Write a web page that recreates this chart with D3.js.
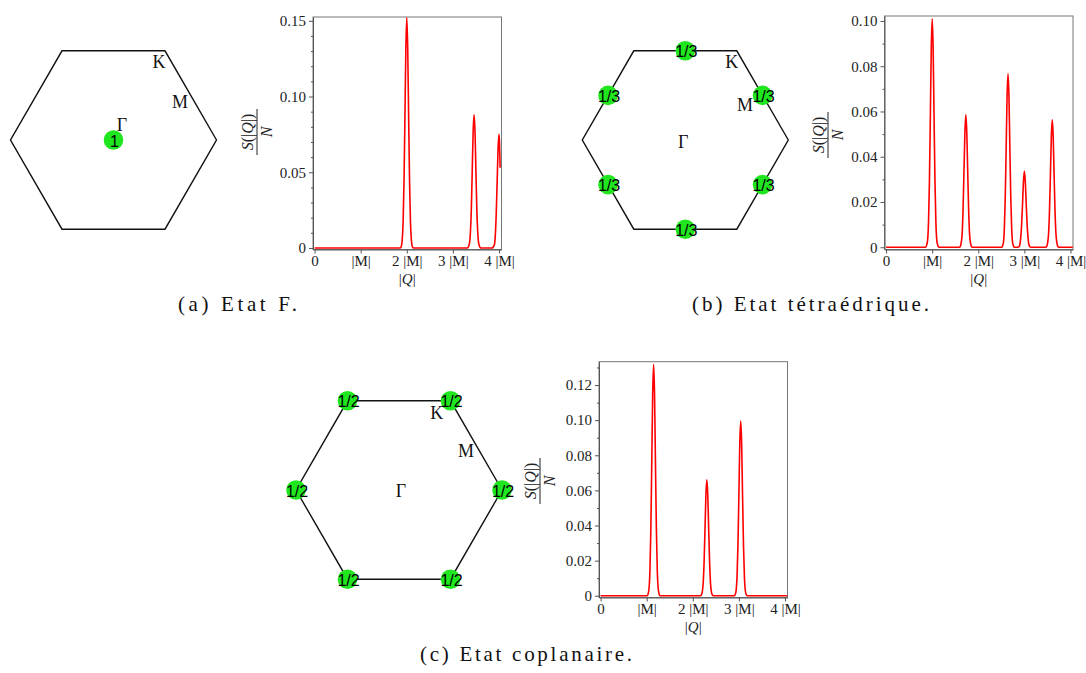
<!DOCTYPE html>
<html><head><meta charset="utf-8">
<script src="https://cdn.jsdelivr.net/npm/d3@7"></script>
<style>body{margin:0;background:#fff}svg{display:block}</style>
</head><body>
<svg id="c" width="1086" height="673"></svg>
<script>
// ---------------- data ----------------
const xTickValues = [0, 1, 2, 3, 4];
const xTickLabels = ["0", "|M|", "2 |M|", "3 |M|", "4 |M|"];

const yTicksF = [0, 0.05, 0.10, 0.15];
const yTickLabelsF = ["0", "0.05", "0.10", "0.15"];
const yTicksT = [0, 0.02, 0.04, 0.06, 0.08, 0.10];
const yTickLabelsT = ["0", "0.02", "0.04", "0.06", "0.08", "0.10"];
const yTicksC = [0, 0.02, 0.04, 0.06, 0.08, 0.10, 0.12];
const yTickLabelsC = ["0", "0.02", "0.04", "0.06", "0.08", "0.10", "0.12"];
const yMaxF = 0.1525, yMaxT = 0.1022, yMaxC = 0.1333;

// (a) Etat F : S(|Q|)/N
const qF = [0, 1.86,1.88,1.90,1.92,1.94,1.96,1.98,2.00,2.02,2.04,2.06,2.08,2.10,2.12,2.14,
            3.32,3.34,3.36,3.38,3.40,3.42,3.44,3.46,3.48,3.50,3.52,3.54,3.56,3.58,3.60,
            3.86,3.88,3.90,3.92,3.94,3.96,3.98,4.00,4.01,4.02,4.025];
const sF = [0, 0,0.001,0.005,0.017,0.044,0.087,0.132,0.152,0.132,0.087,0.044,0.017,0.005,0.001,0,
            0,0.001,0.003,0.010,0.025,0.051,0.077,0.088,0.077,0.051,0.025,0.010,0.003,0.001,0,
            0,0.001,0.002,0.008,0.022,0.043,0.065,0.075,0.071,0.060,0.053];

// (b) Etat tétraédrique
const qT = [0, 0.86,0.88,0.90,0.92,0.94,0.96,0.98,1.00,1.02,1.04,1.06,1.08,1.10,1.12,1.14,
            1.59,1.61,1.63,1.65,1.67,1.69,1.71,1.73,1.75,1.77,1.79,1.81,1.83,1.85,1.87,
            2.505,2.525,2.545,2.565,2.585,2.605,2.625,2.645,2.665,2.685,2.705,2.725,2.745,2.765,2.785,
            2.86,2.88,2.90,2.92,2.94,2.96,2.98,3.00,3.02,3.04,3.06,3.08,3.10,3.12,3.14,
            3.465,3.485,3.505,3.525,3.545,3.565,3.585,3.605,3.625,3.645,3.665,3.685,3.705,3.725,3.745,
            4.05];
const sT = [0, 0,0.001,0.003,0.011,0.029,0.058,0.088,0.101,0.088,0.058,0.029,0.011,0.003,0.001,0,
            0,0.0004,0.002,0.006,0.017,0.034,0.051,0.0585,0.051,0.034,0.017,0.006,0.002,0.0004,0,
            0,0.0005,0.002,0.008,0.022,0.044,0.067,0.0766,0.067,0.044,0.022,0.008,0.002,0.0005,0,
            0,0.0002,0.001,0.004,0.010,0.019,0.029,0.0337,0.029,0.019,0.010,0.004,0.001,0.0002,0,
            0,0.0004,0.002,0.006,0.016,0.032,0.049,0.0563,0.049,0.032,0.016,0.006,0.002,0.0004,0,
            0];

// (c) Etat coplanaire
const qC = [0, 1.01,1.03,1.05,1.07,1.09,1.11,1.13,1.15,1.17,1.19,1.21,1.23,1.25,1.27,1.29,
            2.165,2.185,2.205,2.225,2.245,2.265,2.285,2.305,2.325,2.345,2.365,2.385,2.405,2.425,2.445,
            2.90,2.92,2.94,2.96,2.98,3.00,3.02,3.04,3.06,3.08,3.10,3.12,3.14,3.16,3.18,
            4.05];
const sC = [0, 0,0.001,0.004,0.014,0.038,0.076,0.115,0.1318,0.115,0.076,0.038,0.014,0.004,0.001,0,
            0,0.0004,0.002,0.007,0.019,0.038,0.0575,0.066,0.0575,0.038,0.019,0.007,0.002,0.0004,0,
            0,0.0007,0.003,0.011,0.029,0.057,0.087,0.0995,0.087,0.057,0.029,0.011,0.003,0.0007,0,
            0];

// Bragg spots in the Brillouin zone: point type and weight
const spotTypes = ["Γ", "M", "K"];
const spotWeights = ["1", "1/3", "1/2"];
const captions = ["(a) Etat F.", "(b) Etat tétraédrique.", "(c) Etat coplanaire."];

// ---------------- layout ----------------
const SERIF = "'Liberation Serif','Times New Roman',serif";
const SANS = "'Liberation Sans',Arial,sans-serif";
const svg = d3.select("#c");
const PW = 188.5, XMIN = -0.035, XMAX = 4.055;

const plots = [
  {q: qF, s: sF, yt: yTicksF, yl: yTickLabelsF, ymax: yMaxF, left: 313, top: 17, bottom: 249.5, lx: 257, ly: 132},
  {q: qT, s: sT, yt: yTicksT, yl: yTickLabelsT, ymax: yMaxT, left: 884.5, top: 16, bottom: 249.5, lx: 828, ly: 135},
  {q: qC, s: sC, yt: yTicksC, yl: yTickLabelsC, ymax: yMaxC, left: 599, top: 361.7, bottom: 597.5, lx: 540, ly: 481}
];

plots.forEach(p => {
  const g = svg.append("g");
  const x = d3.scaleLinear().domain([XMIN, XMAX]).range([p.left, p.left + PW]);
  const y = d3.scaleLinear().domain([-0.001, p.ymax]).range([p.bottom, p.top]);

  g.append("rect").attr("x", p.left).attr("y", p.top).attr("width", PW)
    .attr("height", p.bottom - p.top).attr("fill", "none").attr("stroke", "#777").attr("stroke-width", 1);

  const xa = g.append("g").attr("transform", `translate(0,${p.bottom})`)
    .call(d3.axisBottom(x).tickValues(xTickValues).tickFormat((d, i) => xTickLabels[i])
      .tickSize(4).tickSizeOuter(0).tickPadding(2));
  const ya = g.append("g").attr("transform", `translate(${p.left},0)`)
    .call(d3.axisLeft(y).tickValues(p.yt).tickFormat((d, i) => p.yl[i])
      .tickSize(4).tickSizeOuter(0).tickPadding(3));
  const minors = d3.range(0.01, p.ymax, 0.01).filter(v => !p.yt.some(t => Math.abs(t - v) < 1e-6));
  const ym = g.append("g").attr("transform", `translate(${p.left},0)`)
    .call(d3.axisLeft(y).tickValues(minors).tickFormat("").tickSize(2).tickSizeOuter(0));
  [xa, ya, ym].forEach(a => {
    a.select(".domain").attr("stroke", "#555");
    a.selectAll(".tick line").attr("stroke", "#555");
    a.selectAll("text").attr("font-family", SERIF).attr("font-size", 15).attr("fill", "#222");
  });
  ym.select(".domain").remove();

  // axis title |Q|
  const xt = g.append("text").attr("x", p.left + PW / 2).attr("y", p.bottom + 34)
    .attr("text-anchor", "middle").attr("font-family", SERIF).attr("font-size", 15).attr("fill", "#222");
  xt.append("tspan").text("|");
  xt.append("tspan").attr("font-style", "italic").text("Q");
  xt.append("tspan").text("|");

  // y title: fraction S(|Q|)/N
  const yl = g.append("g").attr("transform", `translate(${p.lx},${p.ly}) rotate(-90)`);
  yl.append("line").attr("x1", -23).attr("x2", 23).attr("y1", 0).attr("y2", 0)
    .attr("stroke", "#222").attr("stroke-width", 1);
  const num = yl.append("text").attr("x", 0).attr("y", -4).attr("text-anchor", "middle")
    .attr("font-family", SERIF).attr("font-size", 16).attr("fill", "#222");
  num.append("tspan").attr("font-style", "italic").text("S");
  num.append("tspan").text("(|");
  num.append("tspan").attr("font-style", "italic").text("Q");
  num.append("tspan").text("|)");
  yl.append("text").attr("x", 0).attr("y", 15).attr("text-anchor", "middle")
    .attr("font-family", SERIF).attr("font-size", 16).attr("font-style", "italic").attr("fill", "#222").text("N");

  // curve
  const line = d3.line().x((d, i) => x(p.q[i])).y((d, i) => y(p.s[i])).curve(d3.curveMonotoneX);
  g.append("path").attr("d", line(p.q)).attr("fill", "none").attr("stroke", "#ff0000")
    .attr("stroke-width", 1.6).attr("stroke-linejoin", "round");
});

// ---------------- Brillouin zones ----------------
const R = 103;
const zones = [
  {cx: 113.5, cy: 140, spot: 0, G: [8.5, -15], K: [45.5, -78.3], M: [66.5, -38.3]},
  {cx: 685.3, cy: 140, spot: 1, G: [-2, 1.7], K: [46.4, -78.3], M: [59.7, -35]},
  {cx: 399, cy: 490, spot: 2, G: [2, 1], K: [37.7, -76.7], M: [67, -39.3]}
];
zones.forEach(z => {
  const g = svg.append("g");
  const kx = d3.scaleLinear().domain([-1, 1]).range([z.cx - R, z.cx + R]);
  const ky = d3.scaleLinear().domain([-1, 1]).range([z.cy + R, z.cy - R]);
  const verts = d3.range(6).map(k => [Math.cos(k * Math.PI / 3), Math.sin(k * Math.PI / 3)]);
  g.append("path").attr("d", d3.line().x(d => kx(d[0])).y(d => ky(d[1]))(verts) + "Z")
    .attr("fill", "none").attr("stroke", "#111").attr("stroke-width", 1.4);

  const type = spotTypes[z.spot];
  let pts;
  if (type === "Γ") pts = [[0, 0]];
  else if (type === "K") pts = verts;
  else pts = d3.range(6).map(k => [Math.sqrt(3) / 2 * Math.cos(Math.PI / 6 + k * Math.PI / 3),
                                  Math.sqrt(3) / 2 * Math.sin(Math.PI / 6 + k * Math.PI / 3)]);

  g.selectAll("circle").data(pts).join("circle")
    .attr("cx", d => kx(d[0])).attr("cy", d => ky(d[1])).attr("r", 9.8).attr("fill", "#1fe61f");

  [["Γ", z.G], ["K", z.K], ["M", z.M]].forEach(([t, o]) => {
    g.append("text").attr("x", z.cx + o[0]).attr("y", z.cy + o[1]).attr("text-anchor", "middle")
      .attr("dominant-baseline", "central").attr("font-family", SERIF).attr("font-size", 18)
      .attr("fill", "#111").text(t);
  });

  g.selectAll("text.w").data(pts).join("text").attr("class", "w")
    .attr("x", d => kx(d[0]) + 1).attr("y", d => ky(d[1]) + 1).attr("text-anchor", "middle")
    .attr("dominant-baseline", "central").attr("font-family", SANS).attr("font-size", 16)
    .attr("fill", "#000").text(spotWeights[z.spot]);
});

// ---------------- captions ----------------
const capPos = [[178, 311, 119], [692, 311, 237], [420, 661, 212]];
captions.forEach((c, i) => {
  svg.append("text").attr("x", capPos[i][0]).attr("y", capPos[i][1])
    .attr("font-family", SERIF).attr("font-size", 21).attr("fill", "#111")
    .attr("textLength", capPos[i][2]).attr("lengthAdjust", "spacing").text(c);
});
</script>
</body></html>
